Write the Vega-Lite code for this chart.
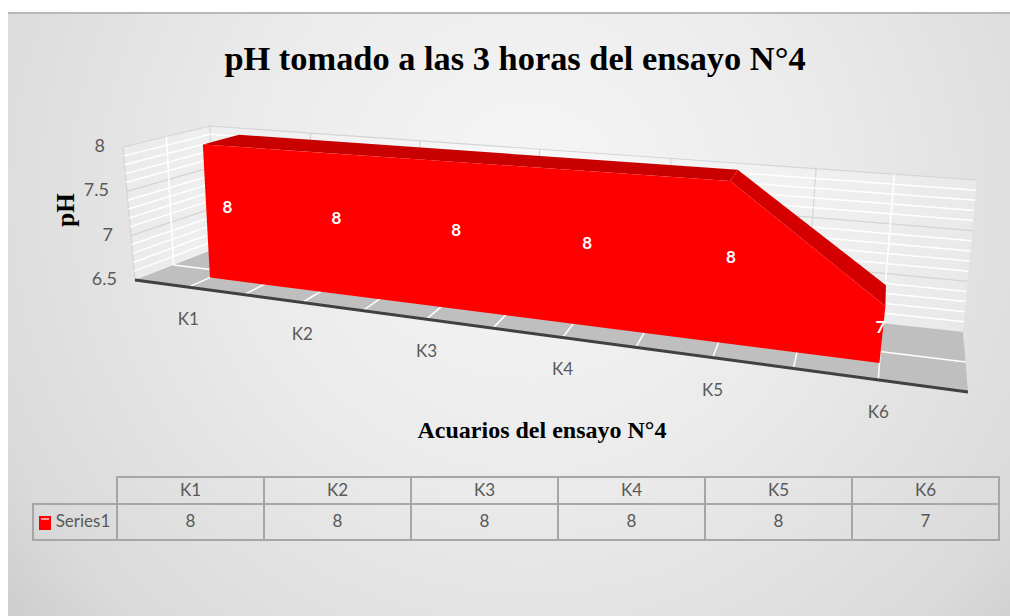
{"$schema":"https://vega.github.io/schema/vega-lite/v6.json","width":1010,"height":616,"padding":0,"autosize":"none","background":"#ffffff",
"view":{"stroke":null},
"title":{"text":"pH tomado a las 3 horas del ensayo N°4","font":"Liberation Serif","fontWeight":"bold","fontSize":34.4,"color":"#000000","anchor":"middle","frame":"group","baseline":"middle","offset":-94,"dx":10},
"config":{"text":{"font":"Lato"}},
"data":{"values":[
{"part":"key","id":"key","a":0,"d":0,"o":1,"c":0,"r":0},
{"part":"floor","id":"f","a":0,"d":0,"o":1},{"part":"floor","id":"f","a":6,"d":0,"o":2},{"part":"floor","id":"f","a":6,"d":1,"o":3},{"part":"floor","id":"f","a":0,"d":1,"o":4},
{"part":"wall","id":"b","a":0,"d":1,"ph":6.5,"o":1},{"part":"wall","id":"b","a":6,"d":1,"ph":6.5,"o":2},{"part":"wall","id":"b","a":6,"d":1,"ph":8,"o":3},{"part":"wall","id":"b","a":0,"d":1,"ph":8,"o":4},
{"part":"wall","id":"l","a":0,"d":0,"ph":6.5,"o":1},{"part":"wall","id":"l","a":0,"d":1,"ph":6.5,"o":2},{"part":"wall","id":"l","a":0,"d":1,"ph":8,"o":3},{"part":"wall","id":"l","a":0,"d":0,"ph":8,"o":4},
{"part":"gw","id":"6.6","ph":6.6,"a":0,"d":0,"o":1},{"part":"gw","id":"6.6","ph":6.6,"a":0,"d":1,"o":2},{"part":"gw","id":"6.6","ph":6.6,"a":6,"d":1,"o":3},
{"part":"gw","id":"6.7","ph":6.7,"a":0,"d":0,"o":1},{"part":"gw","id":"6.7","ph":6.7,"a":0,"d":1,"o":2},{"part":"gw","id":"6.7","ph":6.7,"a":6,"d":1,"o":3},
{"part":"gw","id":"6.8","ph":6.8,"a":0,"d":0,"o":1},{"part":"gw","id":"6.8","ph":6.8,"a":0,"d":1,"o":2},{"part":"gw","id":"6.8","ph":6.8,"a":6,"d":1,"o":3},
{"part":"gw","id":"6.9","ph":6.9,"a":0,"d":0,"o":1},{"part":"gw","id":"6.9","ph":6.9,"a":0,"d":1,"o":2},{"part":"gw","id":"6.9","ph":6.9,"a":6,"d":1,"o":3},
{"part":"gw","id":"7.1","ph":7.1,"a":0,"d":0,"o":1},{"part":"gw","id":"7.1","ph":7.1,"a":0,"d":1,"o":2},{"part":"gw","id":"7.1","ph":7.1,"a":6,"d":1,"o":3},
{"part":"gw","id":"7.2","ph":7.2,"a":0,"d":0,"o":1},{"part":"gw","id":"7.2","ph":7.2,"a":0,"d":1,"o":2},{"part":"gw","id":"7.2","ph":7.2,"a":6,"d":1,"o":3},
{"part":"gw","id":"7.3","ph":7.3,"a":0,"d":0,"o":1},{"part":"gw","id":"7.3","ph":7.3,"a":0,"d":1,"o":2},{"part":"gw","id":"7.3","ph":7.3,"a":6,"d":1,"o":3},
{"part":"gw","id":"7.4","ph":7.4,"a":0,"d":0,"o":1},{"part":"gw","id":"7.4","ph":7.4,"a":0,"d":1,"o":2},{"part":"gw","id":"7.4","ph":7.4,"a":6,"d":1,"o":3},
{"part":"gw","id":"7.6","ph":7.6,"a":0,"d":0,"o":1},{"part":"gw","id":"7.6","ph":7.6,"a":0,"d":1,"o":2},{"part":"gw","id":"7.6","ph":7.6,"a":6,"d":1,"o":3},
{"part":"gw","id":"7.7","ph":7.7,"a":0,"d":0,"o":1},{"part":"gw","id":"7.7","ph":7.7,"a":0,"d":1,"o":2},{"part":"gw","id":"7.7","ph":7.7,"a":6,"d":1,"o":3},
{"part":"gw","id":"7.8","ph":7.8,"a":0,"d":0,"o":1},{"part":"gw","id":"7.8","ph":7.8,"a":0,"d":1,"o":2},{"part":"gw","id":"7.8","ph":7.8,"a":6,"d":1,"o":3},
{"part":"gw","id":"7.9","ph":7.9,"a":0,"d":0,"o":1},{"part":"gw","id":"7.9","ph":7.9,"a":0,"d":1,"o":2},{"part":"gw","id":"7.9","ph":7.9,"a":6,"d":1,"o":3},
{"part":"gg","id":"7","ph":7,"a":0,"d":0,"o":1},{"part":"gg","id":"7","ph":7,"a":0,"d":1,"o":2},{"part":"gg","id":"7","ph":7,"a":6,"d":1,"o":3},
{"part":"gg","id":"7.5","ph":7.5,"a":0,"d":0,"o":1},{"part":"gg","id":"7.5","ph":7.5,"a":0,"d":1,"o":2},{"part":"gg","id":"7.5","ph":7.5,"a":6,"d":1,"o":3},
{"part":"gg","id":"8","ph":8,"a":0,"d":0,"o":1},{"part":"gg","id":"8","ph":8,"a":0,"d":1,"o":2},{"part":"gg","id":"8","ph":8,"a":6,"d":1,"o":3},
{"part":"gg","id":"e0","ph":6.5,"a":0,"d":0,"o":1},{"part":"gg","id":"e0","ph":8,"a":0,"d":0,"o":2},
{"part":"gg","id":"e1","ph":6.5,"a":0,"d":1,"o":1},{"part":"gg","id":"e1","ph":8,"a":0,"d":1,"o":2},
{"part":"gg","id":"v1","ph":6.5,"a":1,"d":1,"o":1},{"part":"gg","id":"v1","ph":8,"a":1,"d":1,"o":2},
{"part":"gg","id":"v2","ph":6.5,"a":2,"d":1,"o":1},{"part":"gg","id":"v2","ph":8,"a":2,"d":1,"o":2},
{"part":"gg","id":"v3","ph":6.5,"a":3,"d":1,"o":1},{"part":"gg","id":"v3","ph":8,"a":3,"d":1,"o":2},
{"part":"gg","id":"v4","ph":6.5,"a":4,"d":1,"o":1},{"part":"gg","id":"v4","ph":8,"a":4,"d":1,"o":2},
{"part":"gg","id":"v5","ph":6.5,"a":5,"d":1,"o":1},{"part":"gg","id":"v5","ph":8,"a":5,"d":1,"o":2},
{"part":"gw","id":"v55","ph":6.5,"a":5.5,"d":1,"o":1},{"part":"gw","id":"v55","ph":8,"a":5.5,"d":1,"o":2},
{"part":"gw","id":"lm","ph":6.5,"a":0,"d":0.5,"o":1},{"part":"gw","id":"lm","ph":8,"a":0,"d":0.5,"o":2},
{"part":"gw","id":"fm","a":0,"d":0.5,"o":1},{"part":"gw","id":"fm","a":6,"d":0.5,"o":2},
{"part":"gw","id":"t05","a":0.5,"d":0,"o":1},{"part":"gw","id":"t05","a":0.5,"d":1,"o":2},
{"part":"gw","id":"t10","a":1,"d":0,"o":1},{"part":"gw","id":"t10","a":1,"d":1,"o":2},
{"part":"gw","id":"t15","a":1.5,"d":0,"o":1},{"part":"gw","id":"t15","a":1.5,"d":1,"o":2},
{"part":"gw","id":"t20","a":2,"d":0,"o":1},{"part":"gw","id":"t20","a":2,"d":1,"o":2},
{"part":"gw","id":"t25","a":2.5,"d":0,"o":1},{"part":"gw","id":"t25","a":2.5,"d":1,"o":2},
{"part":"gw","id":"t30","a":3,"d":0,"o":1},{"part":"gw","id":"t30","a":3,"d":1,"o":2},
{"part":"gw","id":"t35","a":3.5,"d":0,"o":1},{"part":"gw","id":"t35","a":3.5,"d":1,"o":2},
{"part":"gw","id":"t40","a":4,"d":0,"o":1},{"part":"gw","id":"t40","a":4,"d":1,"o":2},
{"part":"gw","id":"t45","a":4.5,"d":0,"o":1},{"part":"gw","id":"t45","a":4.5,"d":1,"o":2},
{"part":"gw","id":"t50","a":5,"d":0,"o":1},{"part":"gw","id":"t50","a":5,"d":1,"o":2},
{"part":"gw","id":"t55","a":5.5,"d":0,"o":1},{"part":"gw","id":"t55","a":5.5,"d":1,"o":2},
{"part":"axis","id":"x","a":0,"d":0,"o":1},{"part":"axis","id":"x","a":6,"d":0,"o":2},
{"part":"top1","id":"t1","a":0.5,"ph":8,"d":0.3,"o":1},{"part":"top1","id":"t1","a":4.5,"ph":8,"d":0.3,"o":2},{"part":"top1","id":"t1","a":4.5,"ph":8,"d":0.75,"o":3},{"part":"top1","id":"t1","a":0.5,"ph":8,"d":0.75,"o":4},
{"part":"top2","id":"t2","a":4.5,"ph":8,"d":0.3,"o":1},{"part":"top2","id":"t2","a":5.5,"ph":7,"d":0.3,"o":2},{"part":"top2","id":"t2","a":5.5,"ph":7,"d":0.75,"o":3},{"part":"top2","id":"t2","a":4.5,"ph":8,"d":0.75,"o":4},
{"part":"front","id":"r","a":0.5,"ph":8,"d":0.3,"o":1},{"part":"front","id":"r","a":1.5,"ph":8,"d":0.3,"o":2},{"part":"front","id":"r","a":2.5,"ph":8,"d":0.3,"o":3},{"part":"front","id":"r","a":3.5,"ph":8,"d":0.3,"o":4},{"part":"front","id":"r","a":4.5,"ph":8,"d":0.3,"o":5},{"part":"front","id":"r","a":5.5,"ph":7,"d":0.3,"o":6},{"part":"front","id":"r","a":5.5,"ph":6.5,"d":0.3,"o":7},{"part":"front","id":"r","a":0.5,"ph":6.5,"d":0.3,"o":8},
{"part":"dl","t":"8","a":0.62,"ph":7.25,"d":0.3},{"part":"dl","t":"8","a":1.58,"ph":7.25,"d":0.3},{"part":"dl","t":"8","a":2.55,"ph":7.25,"d":0.3},{"part":"dl","t":"8","a":3.52,"ph":7.25,"d":0.3},{"part":"dl","t":"8","a":4.49,"ph":7.25,"d":0.3},{"part":"dl","t":"7","a":5.44,"ph":6.76,"d":0.3},
{"part":"kl","t":"K1","a":0.5,"d":0},{"part":"kl","t":"K2","a":1.5,"d":0},{"part":"kl","t":"K3","a":2.5,"d":0},{"part":"kl","t":"K4","a":3.5,"d":0},{"part":"kl","t":"K5","a":4.5,"d":0},{"part":"kl","t":"K6","a":5.5,"d":0},
{"part":"yl","t":"6.5","ph":6.5,"a":0,"d":0},{"part":"yl","t":"7","ph":7,"a":0,"d":0},{"part":"yl","t":"7.5","ph":7.5,"a":0,"d":0},{"part":"yl","t":"8","ph":8,"a":0,"d":0},
{"part":"table","c":0,"r":0,"t":"K1"},{"part":"table","c":1,"r":0,"t":"K2"},{"part":"table","c":2,"r":0,"t":"K3"},{"part":"table","c":3,"r":0,"t":"K4"},{"part":"table","c":4,"r":0,"t":"K5"},{"part":"table","c":5,"r":0,"t":"K6"},
{"part":"table","c":0,"r":1,"t":"8"},{"part":"table","c":1,"r":1,"t":"8"},{"part":"table","c":2,"r":1,"t":"8"},{"part":"table","c":3,"r":1,"t":"8"},{"part":"table","c":4,"r":1,"t":"8"},{"part":"table","c":5,"r":1,"t":"7"},{"part":"table","c":-1,"r":1,"t":"Series1"}
]},
"transform":[
{"calculate":"(datum.a/6)/(1.327*(1-datum.a/6)+datum.a/6)","as":"s"},
{"calculate":"((isValid(datum.ph)?datum.ph:6.5)-6.5)/1.5","as":"h"},
{"calculate":"(1-datum.d)*(135+833*datum.s)+datum.d*(212+751*datum.s)+datum.h*((1-datum.d)*(-12+36*datum.s)+datum.d*(-2+16*datum.s))","as":"u"},
{"calculate":"(1-datum.d)*(280+112*datum.s)+datum.d*(250+82*datum.s)+datum.h*((1-datum.d)*(-133-52*datum.s)+datum.d*(-124-28*datum.s))","as":"v"},
{"calculate":"datum.c<0?33:117+147*datum.c","as":"tx0"},
{"calculate":"117+147*(datum.c+1)","as":"tx1"},
{"calculate":"datum.r==0?477:504","as":"ty0"},
{"calculate":"datum.r==0?504:540","as":"ty1"},
{"calculate":"datum.c<0?83:(datum.tx0+datum.tx1)/2","as":"tcx"},
{"calculate":"datum.r==0?491:522","as":"tcy"}
],
"encoding":{
"x":{"field":"u","type":"quantitative","scale":{"domain":[0,1010],"nice":false,"zero":false},"axis":null},
"y":{"field":"v","type":"quantitative","scale":{"domain":[616,0],"nice":false,"zero":false},"axis":null},
"detail":{"field":"id"},"order":{"field":"o"}},
"layer":[
{"transform":[{"filter":"datum.part=='key'"}],"mark":{"type":"rect","fill":{"gradient":"radial","x1":0.52,"y1":0.19,"r1":0,"x2":0.52,"y2":0.19,"r2":0.72,"stops":[{"offset":0,"color":"#f6f6f6"},{"offset":0.4,"color":"#ebebeb"},{"offset":0.8,"color":"#dadada"},{"offset":1,"color":"#c6c6c6"}]}},"encoding":{"x":{"datum":8},"x2":{"datum":1010},"y":{"datum":12},"y2":{"datum":1000},"detail":null,"order":null}},
{"transform":[{"filter":"datum.part=='key'"}],"mark":{"type":"rule","stroke":"#b8b8b8","strokeWidth":2},"encoding":{"x":{"datum":8},"x2":{"datum":1010},"y":{"datum":13},"detail":null,"order":null}},
{"transform":[{"filter":"datum.part=='wall'"}],"mark":{"type":"line","filled":true,"fill":"#ffffff","fillOpacity":0.25,"stroke":null}},
{"transform":[{"filter":"datum.part=='floor'"}],"mark":{"type":"line","filled":true,"fill":"#bfbfbf","stroke":null}},
{"transform":[{"filter":"datum.part=='gg'"}],"mark":{"type":"line","stroke":"#d4d4d4","strokeWidth":1.2}},
{"transform":[{"filter":"datum.part=='gw'"}],"mark":{"type":"line","stroke":"#ffffff","strokeWidth":1.5}},
{"transform":[{"filter":"datum.part=='axis'"}],"mark":{"type":"line","stroke":"#404040","strokeWidth":3}},
{"transform":[{"filter":"datum.part=='top1'"}],"mark":{"type":"line","filled":true,"fill":"#c80000","stroke":null}},
{"transform":[{"filter":"datum.part=='top2'"}],"mark":{"type":"line","filled":true,"fill":"#d40000","stroke":null}},
{"transform":[{"filter":"datum.part=='front'"}],"mark":{"type":"line","filled":true,"fill":"#ff0000","stroke":null}},
{"transform":[{"filter":"datum.part=='dl'"}],"mark":{"type":"text","color":"#ffffff","fontWeight":"bold","fontSize":17,"dx":8,"dy":-4,"align":"center","baseline":"middle"},"encoding":{"text":{"field":"t"},"detail":null,"order":null}},
{"transform":[{"filter":"datum.part=='kl'"}],"mark":{"type":"text","color":"#595959","fontSize":17,"dy":33,"align":"center","baseline":"middle"},"encoding":{"text":{"field":"t"},"detail":null,"order":null}},
{"transform":[{"filter":"datum.part=='yl'"}],"mark":{"type":"text","color":"#595959","fontSize":18,"dx":-18,"align":"right","baseline":"middle"},"encoding":{"text":{"field":"t"},"detail":null,"order":null}},
{"transform":[{"filter":"datum.part=='key'"}],"mark":{"type":"text","font":"Liberation Serif","fontWeight":"bold","fontSize":24,"color":"#000000","align":"center","baseline":"middle","text":"Acuarios del ensayo N°4"},"encoding":{"x":{"datum":542},"y":{"datum":431},"detail":null,"order":null}},
{"transform":[{"filter":"datum.part=='key'"}],"mark":{"type":"text","font":"Liberation Serif","fontWeight":"bold","fontSize":25,"color":"#000000","align":"center","baseline":"middle","angle":270,"text":"pH"},"encoding":{"x":{"datum":66},"y":{"datum":210},"detail":null,"order":null}},
{"transform":[{"filter":"datum.part=='table'"}],"mark":{"type":"rect","fill":null,"stroke":"#a6a6a6","strokeWidth":2},"encoding":{"x":{"field":"tx0","type":"quantitative"},"x2":{"field":"tx1"},"y":{"field":"ty0","type":"quantitative"},"y2":{"field":"ty1"},"detail":null,"order":null}},
{"transform":[{"filter":"datum.part=='table'"}],"mark":{"type":"text","color":"#595959","fontSize":17,"align":"center","baseline":"middle"},"encoding":{"x":{"field":"tcx","type":"quantitative"},"y":{"field":"tcy","type":"quantitative"},"text":{"field":"t"},"detail":null,"order":null}},
{"transform":[{"filter":"datum.part=='key'"}],"mark":{"type":"rect","fill":"#ff0000"},"encoding":{"x":{"datum":39},"x2":{"datum":51},"y":{"datum":516},"y2":{"datum":530},"detail":null,"order":null}},
{"transform":[{"filter":"datum.part=='key'"}],"mark":{"type":"rule","stroke":"#ffc8c8","strokeWidth":1.5},"encoding":{"x":{"datum":41},"x2":{"datum":49},"y":{"datum":519},"detail":null,"order":null}}
]}
